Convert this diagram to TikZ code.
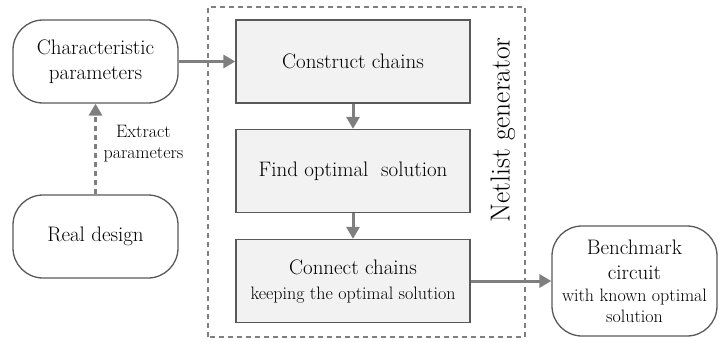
\documentclass[tikz,border=0pt]{standalone}
\usepackage{xcolor}
\usetikzlibrary{arrows.meta}
\usetikzlibrary{positioning, calc}

\definecolor{linecol}{HTML}{595959}
\definecolor{arrowcol}{HTML}{7F7F7F}
\definecolor{boxfill}{HTML}{F2F2F2}

\newcommand{\bigtext}{\fontsize{21}{25}\selectfont}
\newcommand{\smalltext}{\fontsize{18}{21}\selectfont}

\begin{document}
\begin{tikzpicture}[x=1pt,y=1pt]
  \tikzstyle{roundbox}=[draw=linecol,line width=1.3pt,rounded corners=30pt,
    minimum width=165pt,minimum height=83pt,align=center,inner sep=2pt,font=\bigtext]
  \tikzstyle{stepbox}=[draw=linecol,line width=1.3pt,fill=boxfill,
    minimum width=234pt,minimum height=83pt,align=center,inner sep=2pt,font=\bigtext]
  \tikzstyle{flow}=[draw=arrowcol,line width=3pt,-{Triangle[length=12pt,width=13pt]}]
  \tikzstyle{dashflow}=[flow,dash pattern=on 5pt off 4pt]

  \def\W{719}
  \def\H{341}

  \useasboundingbox (0,0) rectangle (\W,\H);

  % NETLIST GENERATOR FRAME
  \draw[arrowcol,line width=2.8pt,dash pattern=on 5pt off 4pt]
  (208,4) rectangle (525,334);
  \node[rotate=90,font=\fontsize{27.5}{32}\selectfont] (netlist) at (503,211) {Netlist generator};

  % INPUTS
  \node[roundbox] (char) at (95.5,279.5) {Characteristic\\parameters};
  \node[roundbox] (real) at (95.5,104.5) {Real design};
  \node[align=center,font=\smalltext,inner sep=0pt] (extract) at (143.5,197.5) {Extract\\parameters};

  % STEPS
  \node[stepbox] (construct) at (353,279.5) {Construct chains};
  \node[stepbox] (findopt) at (353,170) {Find optimal~ solution};
  \node[stepbox] (connect) at (353,60) {Connect chains\\{\smalltext keeping the optimal solution}};

  % OUTPUT
  \node[roundbox,minimum height=110pt] (bench) at (634.5,60)
    {Benchmark\\circuit\\[-3pt]{\smalltext with known optimal}\\[-4pt]{\smalltext solution}};

  % ARROWS
  \draw[dashflow] (real) -- (char);
  \draw[flow] (char) -- (construct);
  \draw[flow] (construct) -- (findopt);
  \draw[flow] (findopt) -- (connect);
  \draw[flow] (connect) -- (bench);
\end{tikzpicture}
\end{document}
